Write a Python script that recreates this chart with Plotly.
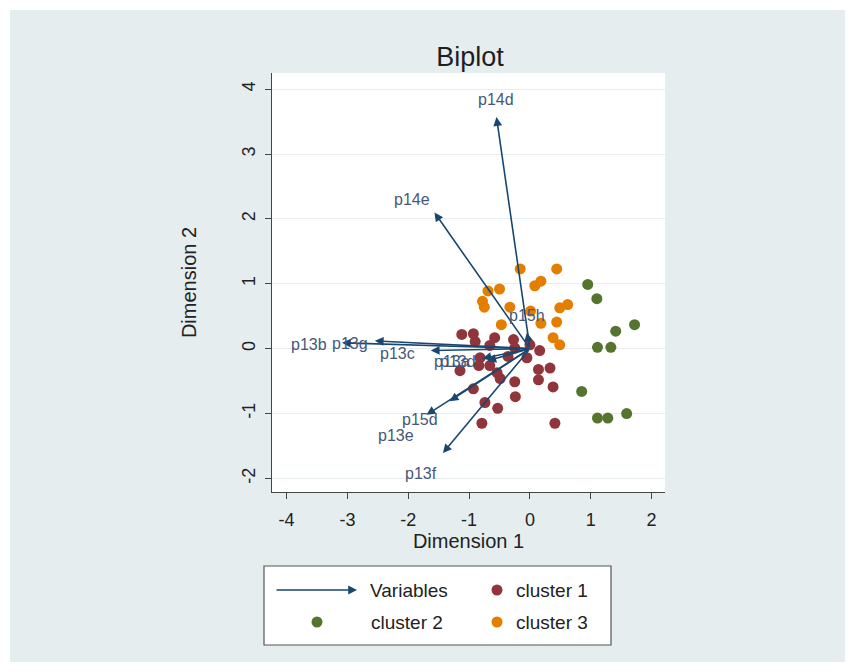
import plotly.graph_objects as go

# ---------------- data ----------------
cluster1_x = [-1.12, -0.93, -0.90, -0.58, -0.27, -0.66, -0.25, 0.00, 0.16, -0.82, -0.36, -0.05,
              -1.15, -0.84, -0.66, -0.54, -0.49, -0.25, 0.14, 0.33, 0.14, 0.38, -0.93, -0.74,
              -0.24, -0.53, -0.79, 0.41]
cluster1_y = [0.22, 0.23, 0.11, 0.17, 0.14, 0.05, 0.01, 0.06, -0.03, -0.14, -0.12, -0.14,
              -0.34, -0.26, -0.26, -0.37, -0.46, -0.51, -0.32, -0.30, -0.48, -0.59, -0.62, -0.83,
              -0.74, -0.92, -1.15, -1.15]

cluster2_x = [0.95, 1.10, 1.72, 1.41, 1.11, 1.33, 0.85, 1.11, 1.28, 1.59]
cluster2_y = [0.99, 0.77, 0.37, 0.27, 0.02, 0.02, -0.66, -1.07, -1.07, -1.00]

cluster3_x = [-0.16, 0.44, 0.18, 0.08, -0.50, -0.69, -0.78, -0.75, -0.33, 0.01, 0.49, 0.62,
              -0.47, 0.18, 0.44, 0.38, 0.49]
cluster3_y = [1.23, 1.23, 1.04, 0.97, 0.92, 0.89, 0.73, 0.64, 0.64, 0.58, 0.63, 0.68,
              0.37, 0.39, 0.41, 0.17, 0.06]

var_names = ["p14d", "p14e", "p13b", "p13g", "p13c", "p13a", "p13d", "p15h", "p15d", "p13e", "p13f"]
var_x = [-0.55, -1.57, -3.09, -2.55, -1.63, -0.78, -0.70, -0.05, -1.32, -1.70, -1.43]
var_y = [3.57, 2.10, 0.09, 0.12, -0.03, -0.15, -0.19, 0.25, -0.81, -1.02, -1.61]

x_ticks = [-4, -3, -2, -1, 0, 1, 2]
y_ticks = [-2, -1, 0, 1, 2, 3, 4]

# ---------------- styling ----------------
# label offsets in screen pixels (dx right, dy down) relative to arrow tips
label_offsets = {
    "p14d": (0, -18), "p14e": (-22, -13), "p13b": (-33, 2), "p13g": (-25, 3),
    "p13c": (-33, 3), "p13a": (-30, 3), "p13d": (-29, 1), "p15h": (0, -17),
    "p15d": (-30, 18), "p13e": (-31, 21), "p13f": (-22, 20),
}

NAVY = "#1a476f"
LABEL_COL = "#46587a"
RED = "#90353b"
GREEN = "#55752f"
ORANGE = "#e37e00"
BG = "#e5edef"
FONT = "Liberation Sans, Arial, sans-serif"

OFF = 8  # page body margin
W, H = 855 - OFF, 672 - OFF
L, T, PW, PH = 272 - OFF, 73 - OFF, 393, 419


def px(x):
    return (x - OFF - L) / PW


def py(y):
    return (T + PH - (y - OFF)) / PH


fig = go.Figure()
for xs, ys, col, name in [(cluster1_x, cluster1_y, RED, "cluster 1"),
                          (cluster2_x, cluster2_y, GREEN, "cluster 2"),
                          (cluster3_x, cluster3_y, ORANGE, "cluster 3")]:
    fig.add_trace(go.Scatter(x=xs, y=ys, mode="markers", name=name, showlegend=False,
                             marker=dict(color=col, size=11, line=dict(width=0))))

annotations = []
for name, x, y in zip(var_names, var_x, var_y):
    annotations.append(dict(x=x, y=y, ax=0, ay=0, xref="x", yref="y", axref="x", ayref="y",
                            text="", showarrow=True, arrowhead=2, arrowsize=1.1,
                            arrowwidth=1.6, arrowcolor=NAVY, standoff=0))
for name, x, y in zip(var_names, var_x, var_y):
    dx, dy = label_offsets[name]
    annotations.append(dict(x=x, y=y, xref="x", yref="y", text=name, showarrow=False,
                            xshift=dx, yshift=-dy, font=dict(family=FONT, size=16, color=LABEL_COL)))

# legend (drawn manually)
leg_font = dict(family=FONT, size=19, color="#222222")
annotations += [
    dict(x=px(357), y=py(590), xref="paper", yref="paper", ax=-82, ay=0, text="",
         showarrow=True, arrowhead=2, arrowsize=1.1, arrowwidth=1.6, arrowcolor=NAVY, standoff=0),
    dict(x=px(368), y=py(590), xref="paper", yref="paper", text="Variables", showarrow=False,
         xanchor="left", yanchor="middle", font=leg_font),
    dict(x=px(514), y=py(590), xref="paper", yref="paper", text="cluster 1", showarrow=False,
         xanchor="left", yanchor="middle", font=leg_font),
    dict(x=px(369), y=py(622), xref="paper", yref="paper", text="cluster 2", showarrow=False,
         xanchor="left", yanchor="middle", font=leg_font),
    dict(x=px(514), y=py(622), xref="paper", yref="paper", text="cluster 3", showarrow=False,
         xanchor="left", yanchor="middle", font=leg_font),
]

shapes = [
    dict(type="rect", xref="paper", yref="paper", x0=px(10), x1=px(845), y0=py(662), y1=py(10),
         fillcolor=BG, line=dict(width=0), layer="below"),
    dict(type="rect", xref="paper", yref="paper", x0=0, x1=1, y0=0, y1=1,
         fillcolor="white", line=dict(width=0), layer="below"),
    dict(type="rect", xref="paper", yref="paper", x0=px(264), x1=px(611), y0=py(645), y1=py(566),
         fillcolor="white", line=dict(width=1.2, color="#555555"), layer="above"),
]
for cx, cy, col in [(497, 590, RED), (317, 622, GREEN), (497, 622, ORANGE)]:
    shapes.append(dict(type="circle", xref="paper", yref="paper", xsizemode="pixel", ysizemode="pixel",
                       xanchor=px(cx), yanchor=py(cy), x0=-5.5, x1=5.5, y0=-5.5, y1=5.5,
                       fillcolor=col, line=dict(width=0), layer="above"))

fig.update_layout(
    width=W, height=H, autosize=False,
    margin=dict(l=L, r=W - L - PW, t=T, b=H - T - PH, pad=0),
    paper_bgcolor="white", plot_bgcolor="rgba(0,0,0,0)",
    showlegend=False,
    title=dict(text="Biplot", x=px(470), xref="paper", y=1 - (57 - OFF) / H, yanchor="middle",
               font=dict(family=FONT, size=27, color="#1e1e1e")),
    font=dict(family=FONT, color="#222222"),
    annotations=annotations, shapes=shapes,
)
fig.update_xaxes(range=[-4.24, 2.22], tickvals=x_ticks, ticktext=[str(v) for v in x_ticks],
                 showgrid=False, zeroline=False, showline=True, linecolor="#444444", linewidth=1,
                 ticks="outside", ticklen=6, tickcolor="#444444", ticklabelstandoff=5,
                 tickfont=dict(family=FONT, size=18, color="#222222"),
                 title=dict(text="Dimension 1", font=dict(family=FONT, size=20, color="#222222"),
                            standoff=4))
fig.update_yaxes(range=[-2.21, 4.25], tickvals=y_ticks, ticktext=[str(v) for v in y_ticks],
                 showgrid=True, gridcolor="#e8eef0", gridwidth=1.2, zeroline=False,
                 showline=True, linecolor="#444444", linewidth=1,
                 ticks="outside", ticklen=6, tickcolor="#444444", tickangle=-90, ticklabelstandoff=3,
                 tickfont=dict(family=FONT, size=18, color="#222222"),
                 title=dict(text="Dimension 2", font=dict(family=FONT, size=20, color="#222222"),
                            standoff=36))

fig.write_html("out.html")
